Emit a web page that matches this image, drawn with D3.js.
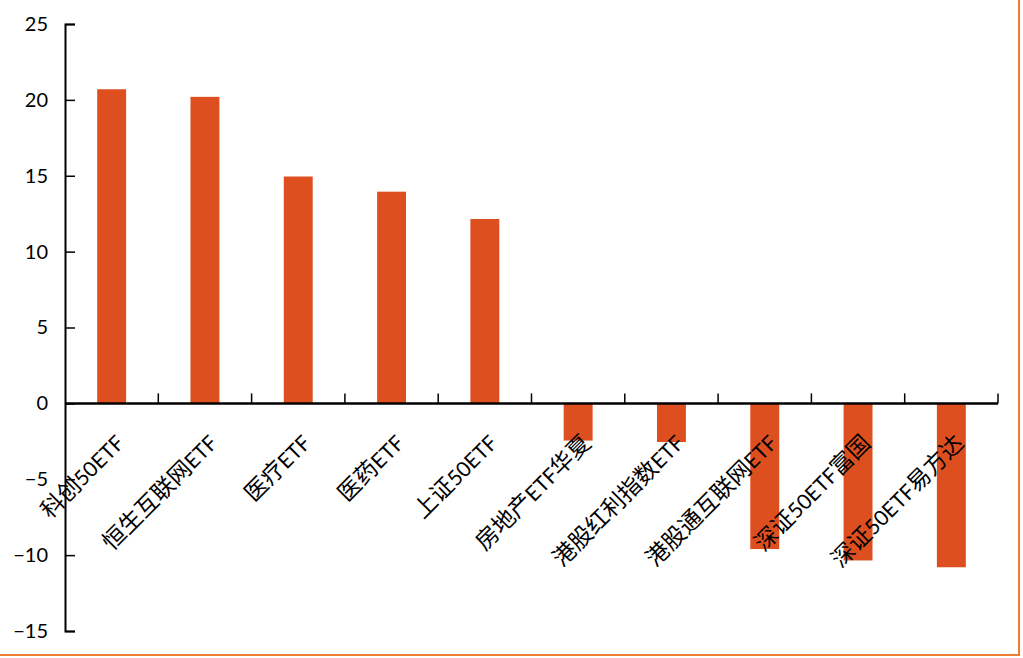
<!DOCTYPE html>
<html>
<head>
<meta charset="utf-8">
<script src="https://cdn.jsdelivr.net/npm/d3@7"></script>
<style>
  body { margin: 0; background: #fff; }
  text { font-family: "Lato", "Noto Sans CJK SC", sans-serif; }
</style>
</head>
<body>
<svg></svg>
<script>
var width = 1023,
    height = 658

// data
var categories = ["科创50ETF", "恒生互联网ETF", "医疗ETF", "医药ETF", "上证50ETF",
  "房地产ETF华夏", "港股红利指数ETF", "港股通互联网ETF", "深证50ETF富国", "深证50ETF易方达"]
var values = [20.7, 20.2, 14.95, 13.95, 12.15, -2.45, -2.55, -9.6, -10.35, -10.8]
var yTicks = [-15, -10, -5, 0, 5, 10, 15, 20, 25]

var svg = d3.select("svg").attr("width", width).attr("height", height)

// outer frame (only right / bottom edges show)
svg.append("rect")
  .attr("x", -2).attr("y", -2)
  .attr("width", 1021).attr("height", 657)
  .attr("fill", "none")
  .attr("stroke", "#ED7D31")
  .attr("stroke-width", 2)

var x = d3.scaleBand()
  .domain(categories)
  .range([65, 998])
  .paddingInner(0.69)
  .paddingOuter(0.345)

var band = d3.scaleBand().domain(categories).range([65, 998])

var y = d3.scaleLinear()
  .domain([-15, 25])
  .range([631, 24])

// bars
svg.selectAll("rect.bar")
  .data(values)
  .enter().append("rect")
  .attr("class", "bar")
  .attr("x", function(d, i) { return x(categories[i]) })
  .attr("width", x.bandwidth())
  .attr("y", function(d) { return d >= 0 ? y(d) : y(0) })
  .attr("height", function(d) { return Math.abs(y(d) - y(0)) })
  .attr("fill", "#DE4F1F")

// y axis, ticks pointing inward
var yAxis = svg.append("g")
  .attr("transform", "translate(65,0)")
  .call(d3.axisRight(y).tickValues(yTicks).tickSize(10).tickFormat(d3.format("d")))
yAxis.select(".domain").attr("d", "M10,24.5H0.5V631.5H10").attr("stroke-width", 2)
yAxis.selectAll(".tick line").attr("stroke-width", 1.5)
yAxis.selectAll(".tick text")
  .attr("x", -17)
  .attr("text-anchor", "end")
  .attr("font-size", 20)
  .attr("fill", "#000")

// x axis at zero, tick marks between categories
var zeroY = y(0)
svg.append("line")
  .attr("x1", 65).attr("x2", 998)
  .attr("y1", zeroY).attr("y2", zeroY)
  .attr("stroke", "#000").attr("stroke-width", 2.5)

svg.selectAll("line.xtick")
  .data(categories)
  .enter().append("line")
  .attr("class", "xtick")
  .attr("x1", function(d) { return band(d) + band.bandwidth() })
  .attr("x2", function(d) { return band(d) + band.bandwidth() })
  .attr("y1", zeroY).attr("y2", zeroY - 10)
  .attr("stroke", "#000").attr("stroke-width", 1.5)

// rotated category labels
svg.selectAll("text.xlab")
  .data(categories)
  .enter().append("text")
  .attr("class", "xlab")
  .attr("transform", function(d) {
    var cx = band(d) + band.bandwidth() / 2 + 14
    return "translate(" + cx + "," + (zeroY + 41) + ") rotate(-45)"
  })
  .attr("text-anchor", "end")
  .attr("fill", "#000")
  .each(function(d) {
    // CJK glyphs in the reference look a bit larger than the Latin ones
    var t = d3.select(this)
    d.match(/[0-9A-Za-z]+|[^0-9A-Za-z]+/g).forEach(function(part) {
      t.append("tspan")
        .attr("font-size", /[0-9A-Za-z]/.test(part) ? 21 : 23)
        .text(part)
    })
  })
</script>
</body>
</html>
